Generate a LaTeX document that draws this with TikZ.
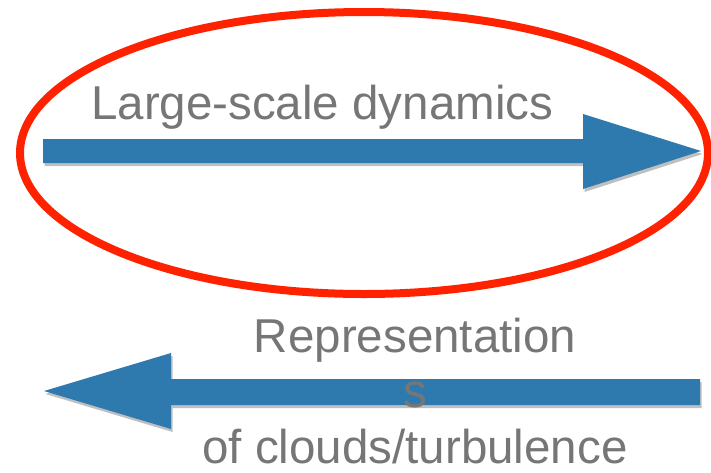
\documentclass[tikz,border=0pt]{standalone}
\usepackage{fontspec}
\setmainfont{Liberation Sans}
\usetikzlibrary{shadows}
\definecolor{arrowblue}{RGB}{46,122,175}
\definecolor{ringred}{RGB}{255,34,0}
\definecolor{labelgray}{RGB}{118,118,118}
\tikzset{
  bigarrow/.style={fill=arrowblue, draw=none,
    drop shadow={shadow xshift=1.5pt, shadow yshift=-3pt, opacity=0.25, fill=black}},
  ring/.style={draw=ringred, line width=8pt},
  lbl/.style={text=labelgray, inner sep=0pt, font=\fontsize{47.5}{55.5}\selectfont}
}
\begin{document}
\begin{tikzpicture}[x=1pt,y=-1pt]
\useasboundingbox (0,0) rectangle (711,472);
% red ellipse
\draw[ring] (364,153) ellipse [x radius=344, y radius=141];
% top arrow (pointing right)
\fill[bigarrow] (43,139) -- (583,139) -- (583,114) -- (701,151) -- (583,189) -- (583,163) -- (43,163) -- cycle;
\node[lbl, anchor=base west] (top) at (91,119) {Large-scale dynamics};
% bottom arrow (pointing left)
\fill[bigarrow] (700,379) -- (171,379) -- (171,353) -- (44,391) -- (171,429) -- (171,405) -- (700,405) -- cycle;
\node[lbl, anchor=base, align=center] (bottom) at (415,463) {Representation\\s\\of clouds/turbulence};
\end{tikzpicture}
\end{document}
